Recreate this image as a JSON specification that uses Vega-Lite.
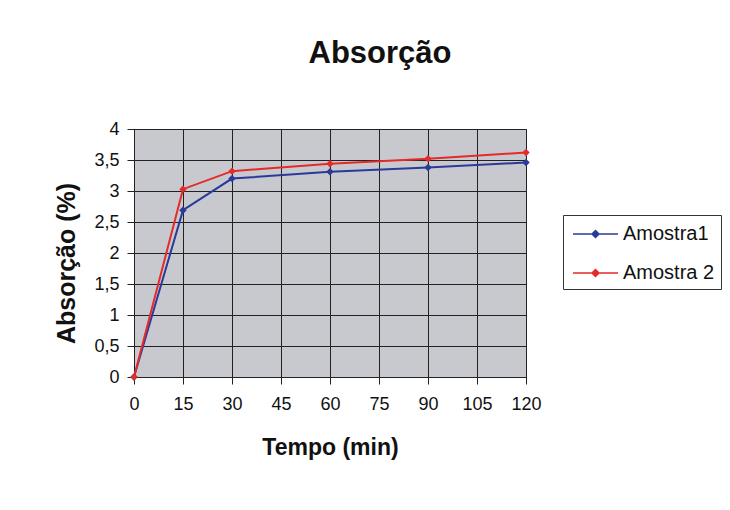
{
  "$schema": "https://vega.github.io/schema/vega-lite/v6.json",
  "width": 392,
  "height": 248,
  "autosize": {"type": "none"},
  "padding": {"left": 134, "top": 129, "right": 204, "bottom": 133},
  "background": "white",
  "title": {
    "text": "Absorção",
    "fontSize": 31,
    "font": "Liberation Sans",
    "fontWeight": "bold",
    "color": "#111111",
    "anchor": "middle",
    "dx": 50,
    "offset": 50
  },
  "data": {
    "values": [
      {"tempo": 0, "absorcao": 0, "amostra": "Amostra1"},
      {"tempo": 15, "absorcao": 2.69, "amostra": "Amostra1"},
      {"tempo": 30, "absorcao": 3.2, "amostra": "Amostra1"},
      {"tempo": 60, "absorcao": 3.31, "amostra": "Amostra1"},
      {"tempo": 90, "absorcao": 3.38, "amostra": "Amostra1"},
      {"tempo": 120, "absorcao": 3.46, "amostra": "Amostra1"},
      {"tempo": 0, "absorcao": 0, "amostra": "Amostra 2"},
      {"tempo": 15, "absorcao": 3.03, "amostra": "Amostra 2"},
      {"tempo": 30, "absorcao": 3.32, "amostra": "Amostra 2"},
      {"tempo": 60, "absorcao": 3.44, "amostra": "Amostra 2"},
      {"tempo": 90, "absorcao": 3.52, "amostra": "Amostra 2"},
      {"tempo": 120, "absorcao": 3.62, "amostra": "Amostra 2"}
    ]
  },
  "mark": {
    "type": "line",
    "strokeWidth": 2,
    "clip": false,
    "point": {"shape": "diamond", "filled": true, "size": 55}
  },
  "encoding": {
    "x": {
      "field": "tempo",
      "type": "quantitative",
      "title": "Tempo (min)",
      "scale": {"domain": [0, 120], "nice": false},
      "axis": {
        "values": [0, 15, 30, 45, 60, 75, 90, 105, 120],
        "labelFlush": false,
        "labelOverlap": false
      }
    },
    "y": {
      "field": "absorcao",
      "type": "quantitative",
      "title": "Absorção (%)",
      "scale": {"domain": [0, 4], "nice": false},
      "axis": {
        "values": [0, 0.5, 1, 1.5, 2, 2.5, 3, 3.5, 4],
        "labelExpr": "replace(toString(datum.value), '.', ',')",
        "labelFlush": false,
        "labelOverlap": false,
        "titleY": 134
      }
    },
    "color": {
      "field": "amostra",
      "type": "nominal",
      "sort": ["Amostra1", "Amostra 2"],
      "scale": {"domain": ["Amostra1", "Amostra 2"], "range": ["#2b3a98", "#e52a2a"]},
      "legend": {
        "title": null,
        "orient": "none",
        "legendX": 429,
        "legendY": 86,
        "strokeColor": "#333333",
        "padding": 6,
        "symbolType": "M-0.75,0H3M1.125,-0.29L1.415,0L1.125,0.29L0.835,0Z",
        "symbolSize": 576,
        "symbolStrokeWidth": 1.5,
        "labelFont": "Liberation Sans",
        "labelFontSize": 20,
        "labelColor": "#111111",
        "labelOffset": 28,
        "rowPadding": 16,
        "encode": {
          "symbols": {"update": {"fill": {"scale": "color", "field": "value"}}}
        }
      }
    }
  },
  "config": {
    "view": {"fill": "#c8c9ce", "stroke": "#222222", "strokeWidth": 1},
    "axis": {
      "labelFont": "Liberation Sans",
      "labelFontSize": 18,
      "labelColor": "#111111",
      "titleFont": "Liberation Sans",
      "titleFontWeight": "bold",
      "titleColor": "#111111",
      "domainColor": "#222222",
      "tickColor": "#222222",
      "tickSize": 7,
      "gridColor": "#222222",
      "gridWidth": 1,
      "gridOpacity": 1
    },
    "axisX": {"labelPadding": 11, "titleFontSize": 23, "titlePadding": 23},
    "axisY": {"labelPadding": 8, "titleFontSize": 25, "titlePadding": 14}
  }
}
